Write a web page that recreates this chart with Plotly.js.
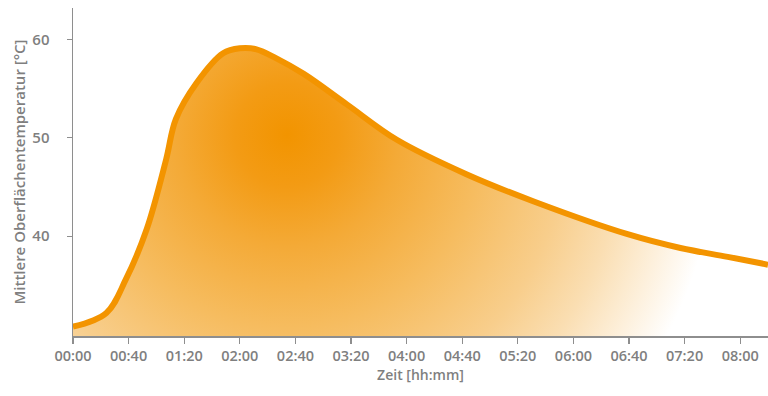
<!DOCTYPE html>
<html>
<head>
<meta charset="utf-8">
<script src="https://cdn.plot.ly/plotly-3.0.1.min.js"></script>
<style>
  html, body { margin: 0; padding: 0; background: #ffffff; }
  #chart { width: 768px; height: 396px; }
</style>
</head>
<body>
<div id="chart"></div>
<script>
// ---- data (time in minutes since start, temperature in °C) ----
var timeMinutes = [0, 24, 38, 53, 67, 74, 89, 108, 120, 132, 146, 166, 197, 233, 283, 332, 399, 437, 471, 500];
var temperature = [30.8, 32.2, 35.6, 40.7, 47.8, 51.9, 55.6, 58.6, 59.1, 59.0, 58.1, 56.5, 53.4, 49.8, 46.3, 43.5, 40.2, 38.8, 37.9, 37.1];

var tickMinutes = [0, 40, 80, 120, 160, 200, 240, 280, 320, 360, 400, 440, 480];
var tickLabels = ["00:00", "00:40", "01:20", "02:00", "02:40", "03:20", "04:00", "04:40", "05:20", "06:00", "06:40", "07:20", "08:00"];
var tempTicks = [40, 50, 60];

var xTitle = "Zeit [hh:mm]";
var yTitle = "Mittlere Oberflächentemperatur [°C]";

// ---- styling ----
var ORANGE = "rgb(243,148,0)";
var GREY = "#7f7f7f";
var AXIS = "#8e8e8e";
var FONT = "'Open Sans', 'Liberation Sans', sans-serif";
var gradCenter = { x: 154, y: 50.3 };   // centre of the radial glow (axis units)
var gradRadiusPx = 430;

var fillStops = [
  [0.00, "rgb(242,148,0)"],
  [0.12, "rgb(243,155,20)"],
  [0.26, "rgb(244,170,55)"],
  [0.45, "rgb(246,188,95)"],
  [0.65, "rgb(248,206,140)"],
  [0.78, "rgb(250,222,178)"],
  [0.90, "rgb(253,240,220)"],
  [1.00, "rgb(255,255,255)"]
];

var trace = {
  type: "scatter",
  mode: "lines",
  x: timeMinutes,
  y: temperature,
  line: { color: ORANGE, width: 6, shape: "spline", smoothing: 1 },
  fill: "tozeroy",
  fillgradient: { type: "radial", colorscale: fillStops },
  hoverinfo: "skip"
};

var layout = {
  width: 768,
  height: 396,
  margin: { l: 73, r: 0, t: 8, b: 60, pad: 0 },
  paper_bgcolor: "#ffffff",
  plot_bgcolor: "#ffffff",
  showlegend: false,
  font: { family: FONT, color: GREY },
  xaxis: {
    range: [0, 500],
    tickmode: "array",
    tickvals: tickMinutes,
    ticktext: tickLabels,
    ticks: "outside",
    ticklen: 6,
    tickwidth: 1.2,
    tickcolor: AXIS,
    showline: true,
    linecolor: AXIS,
    linewidth: 1.5,
    showgrid: false,
    zeroline: false,
    tickfont: { family: FONT, size: 14.5, weight: 600, color: GREY },
    title: { text: xTitle, font: { family: FONT, size: 14, weight: 600, color: GREY }, standoff: 3 }
  },
  yaxis: {
    range: [29.85, 63.2],
    tickmode: "array",
    tickvals: tempTicks,
    ticks: "outside",
    ticklen: 5,
    tickwidth: 1.2,
    tickcolor: AXIS,
    showline: true,
    linecolor: AXIS,
    linewidth: 1.5,
    showgrid: false,
    zeroline: false,
    ticklabelstandoff: 14,
    tickfont: { family: FONT, size: 15, weight: 600, color: GREY },
    title: { text: yTitle, font: { family: FONT, size: 15, weight: 600, color: GREY }, standoff: 3 }
  }
};

Plotly.newPlot("chart", [trace], layout, { staticPlot: true, displayModeBar: false }).then(function (gd) {
  var xa = gd._fullLayout.xaxis, ya = gd._fullLayout.yaxis;
  var cx = xa.l2p(gradCenter.x), cy = ya.l2p(gradCenter.y);
  gd.querySelectorAll("radialGradient").forEach(function (g) {
    g.setAttribute("gradientUnits", "userSpaceOnUse");
    g.setAttribute("cx", cx);
    g.setAttribute("cy", cy);
    g.setAttribute("fx", cx);
    g.setAttribute("fy", cy);
    g.setAttribute("r", gradRadiusPx);
  });
});
</script>
</body>
</html>
